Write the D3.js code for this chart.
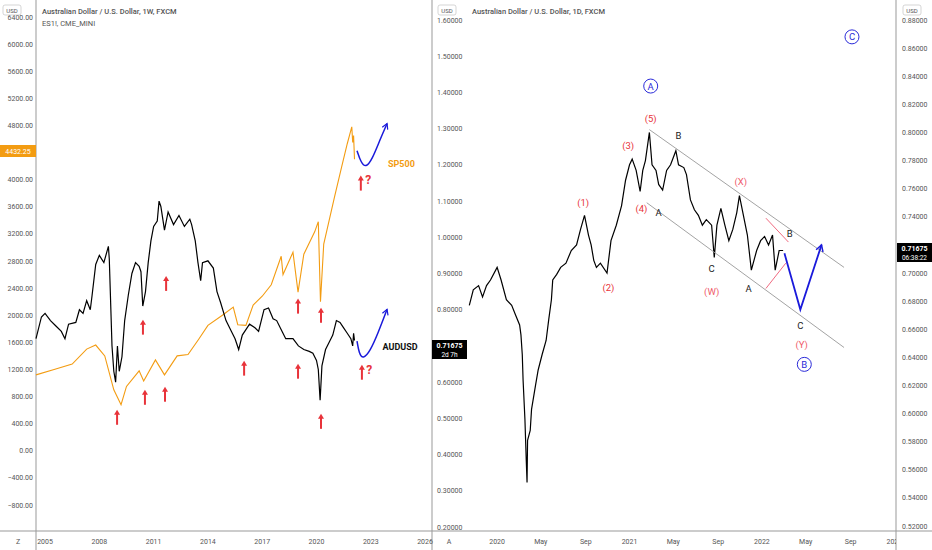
<html>
<head>
<style>
  body { margin: 0; background: #fff; font-family: 'Roboto', sans-serif; }
  .tick { font-size: 7px; fill: #555; }
</style>
</head>
<body>
<svg id="chart" width="932" height="550"></svg>
<script src="https://cdn.jsdelivr.net/npm/d3@7"></script>
<script>
// ---- weekly AUDUSD (left panel, right axis) ----
const audWYears = [2004.5,2004.8,2005.0,2005.3,2005.6,2005.9,2006.1,2006.3,2006.7,2006.9,2007.1,2007.3,2007.5,2007.6,2007.8,2008.0,2008.25,2008.5,2008.55,2008.7,2008.8,2008.9,2009.0,2009.1,2009.25,2009.4,2009.6,2009.8,2010.0,2010.2,2010.3,2010.4,2010.55,2010.7,2010.85,2011.0,2011.2,2011.3,2011.4,2011.6,2011.8,2012.1,2012.4,2012.7,2013.0,2013.1,2013.3,2013.45,2013.6,2013.7,2014.0,2014.3,2014.5,2014.7,2015.0,2015.3,2015.5,2015.7,2015.9,2016.1,2016.3,2016.6,2016.8,2017.1,2017.35,2017.6,2017.8,2018.1,2018.3,2018.7,2019.0,2019.3,2019.6,2019.8,2020.0,2020.1,2020.2,2020.3,2020.5,2020.7,2020.9,2021.1,2021.3,2021.5,2021.7,2021.9,2022.0,2022.05,2022.1];
const audWValues = [0.72,0.78,0.79,0.77,0.755,0.74,0.72,0.76,0.765,0.80,0.79,0.825,0.80,0.84,0.925,0.95,0.93,0.975,0.94,0.70,0.63,0.60,0.70,0.63,0.67,0.77,0.84,0.90,0.93,0.92,0.905,0.81,0.85,0.93,0.99,1.03,1.045,1.10,1.085,1.02,1.07,1.035,1.06,1.03,1.05,1.035,0.99,0.93,0.88,0.93,0.935,0.915,0.85,0.82,0.77,0.74,0.72,0.69,0.73,0.745,0.76,0.75,0.74,0.80,0.805,0.775,0.77,0.74,0.72,0.72,0.70,0.69,0.685,0.68,0.66,0.635,0.55,0.645,0.69,0.71,0.73,0.77,0.765,0.75,0.735,0.72,0.70,0.735,0.715];

// ---- ES1! (left panel, left axis) ----
const spYears = [2004.5,2005.5,2006.5,2007.3,2007.8,2008.3,2008.8,2009.2,2009.5,2010.2,2010.45,2011.1,2011.6,2012.3,2012.9,2013.5,2014.0,2014.8,2015.4,2015.65,2016.1,2016.5,2017.0,2017.5,2018.05,2018.15,2018.7,2018.98,2019.3,2019.9,2020.1,2020.22,2020.4,2020.7,2021.0,2021.4,2021.7,2021.95,2022.0,2022.05,2022.1];
const spValues = [1120,1200,1280,1500,1560,1400,900,680,950,1180,1030,1340,1120,1400,1420,1650,1850,2000,2120,1860,1850,2150,2280,2450,2870,2600,2930,2340,2900,3230,3380,2200,3050,3400,3750,4200,4530,4780,4550,4650,4300];

// ---- daily AUDUSD (right panel) ----
const audDYears = [2019.79,2019.82,2019.86,2019.89,2019.92,2019.95,2020.0,2020.03,2020.07,2020.11,2020.14,2020.17,2020.18,2020.19,2020.196,2020.21,2020.22,2020.226,2020.23,2020.25,2020.26,2020.29,2020.31,2020.34,2020.37,2020.39,2020.41,2020.42,2020.45,2020.48,2020.52,2020.56,2020.60,2020.63,2020.66,2020.69,2020.71,2020.73,2020.75,2020.78,2020.83,2020.86,2020.90,2020.94,2020.97,2021.0,2021.02,2021.05,2021.08,2021.10,2021.12,2021.15,2021.17,2021.20,2021.22,2021.25,2021.28,2021.31,2021.35,2021.37,2021.41,2021.43,2021.46,2021.49,2021.52,2021.55,2021.58,2021.62,2021.64,2021.66,2021.69,2021.72,2021.75,2021.78,2021.81,2021.83,2021.86,2021.89,2021.92,2021.96,2021.99,2022.02,2022.05,2022.08,2022.10,2022.13,2022.16];
const audDValues = [0.677,0.688,0.691,0.683,0.691,0.695,0.704,0.695,0.681,0.677,0.670,0.663,0.656,0.642,0.624,0.596,0.567,0.551,0.581,0.588,0.603,0.620,0.631,0.642,0.652,0.667,0.681,0.695,0.699,0.704,0.707,0.716,0.720,0.731,0.741,0.727,0.720,0.709,0.704,0.707,0.700,0.723,0.734,0.748,0.766,0.777,0.781,0.773,0.758,0.773,0.780,0.800,0.777,0.773,0.763,0.759,0.773,0.777,0.787,0.777,0.775,0.770,0.752,0.745,0.741,0.734,0.738,0.734,0.711,0.734,0.746,0.734,0.723,0.731,0.743,0.755,0.741,0.727,0.702,0.716,0.723,0.726,0.720,0.727,0.702,0.716,0.716];

// ---- ticks (labels hidden behind price boxes left out) ----
const spTicks = [6400,6000,5600,5200,4800,4000,3600,3200,2800,2400,2000,1600,1200,800,400,0,-400,-800];
const audWTicks = [1.6,1.5,1.4,1.3,1.2,1.1,1.0,0.9,0.8,0.6,0.5,0.4,0.3,0.2];
const audDTicks = [0.88,0.86,0.84,0.82,0.80,0.78,0.76,0.74,0.70,0.68,0.66,0.64,0.62,0.60,0.58,0.56,0.54,0.52];
const leftYearTicks = [2005,2008,2011,2014,2017,2020,2023,2026];
const rightDateTicks = [2020,2020.33,2020.67,2021,2021.33,2021.67,2022,2022.33,2022.67,2023];
const rightDateLabels = ["2020","May","Sep","2021","May","Sep","2022","May","Sep","2023"];

// ---- annotations ----
const arrowSP = [[2008.98,605],[2010.52,900],[2011.63,945],[2010.41,1935],[2011.69,2580],[2016.0,1330],[2018.98,2245],[2018.98,1285],[2020.25,2110],[2020.25,545],[2022.51,1270],[2022.45,4060]];
const questionSP = [[2022.92,1140],[2022.86,3930]];
const blueSP = [[2022.24,4428],[2022.46,4251],[2022.73,4177],[2023.07,4295],[2023.51,4590],[2023.9,4827]];
const blueAUD = [[2022.24,0.713],[2022.35,0.680],[2022.57,0.663],[2022.96,0.685],[2023.4,0.735],[2023.9,0.801]];
const channelUpper = [[2021.15,0.802],[2022.62,0.704]];
const channelLower = [[2021.13,0.750],[2022.62,0.647]];
const pinkUpper = [[2022.03,0.739],[2022.20,0.722]];
const pinkLower = [[2022.03,0.689],[2022.18,0.707]];
const blueZig = [[2022.17,0.714],[2022.29,0.674],[2022.45,0.720]];
const waveLabels = [
  ["(5)",2021.16,0.810,"red"],["(3)",2020.99,0.791,"red"],["(1)",2020.65,0.750,"red"],
  ["(4)",2021.09,0.746,"red"],["(2)",2020.84,0.690,"red"],["B",2021.37,0.798,"black"],
  ["A",2021.22,0.743,"black"],["C",2021.62,0.703,"black"],["(W)",2021.62,0.687,"pink"],
  ["(X)",2021.84,0.765,"pink"],["A",2021.90,0.689,"black"],["B",2022.21,0.728,"black"],
  ["C",2022.29,0.663,"black"],["(Y)",2022.30,0.649,"pink"]];
const circleLabels = [["A",2021.16,0.833],["B",2022.32,0.635],["C",2022.68,0.868]];

const svg = d3.select("#chart");
const colors = {red:"#e8333a", pink:"#ef5b6a", black:"#222"};

// scales
const xL = d3.scaleLinear().domain([2004.5,2026.3]).range([36,430.5]);
const ySP = d3.scaleLinear().domain([-800,6400]).range([505,17]);
const yAW = d3.scaleLinear().domain([0.2,1.6]).range([527,20]);
const xR = d3.scaleLinear().domain([2019.765,2023.02]).range([466,897]);
const yAD = d3.scaleLinear().domain([0.52,0.88]).range([526,20]);

// frame lines
[[36,0,36,550],[432,0,432,550],[896,0,896,550]].forEach(l =>
  svg.append("line").attr("x1",l[0]).attr("y1",l[1]).attr("x2",l[2]).attr("y2",l[3]).attr("stroke","#999").attr("stroke-width",1));
svg.append("line").attr("x1",0).attr("x2",932).attr("y1",531).attr("y2",531).attr("stroke","#999");

// tick labels
svg.selectAll(".spT").data(spTicks).join("text").attr("class","tick")
  .attr("x",33).attr("y",d=>ySP(d)+2.5).attr("text-anchor","end")
  .text(d => (d<0?"\u2212":"") + Math.abs(d).toFixed(2));
svg.selectAll(".awT").data(audWTicks).join("text").attr("class","tick")
  .attr("x",437).attr("y",d=>yAW(d)+2.5).text(d=>d.toFixed(5));
svg.selectAll(".adT").data(audDTicks).join("text").attr("class","tick")
  .attr("x",902).attr("y",d=>yAD(d)+2.5).text(d=>d.toFixed(5));
svg.selectAll(".lx").data(leftYearTicks).join("text").attr("class","tick")
  .attr("x",d=>xL(d)).attr("y",544).attr("text-anchor","middle").text(d=>d);
svg.append("clipPath").attr("id","rc").append("rect").attr("x",466).attr("y",0).attr("width",430).attr("height",550);
svg.append("g").attr("clip-path","url(#rc)").selectAll("text").data(rightDateTicks).join("text").attr("class","tick")
  .attr("x",d=>xR(d)).attr("y",544).attr("text-anchor","middle").text((d,i)=>rightDateLabels[i]);
[["Z",18],["A",449]].forEach(t => svg.append("text").attr("class","tick").attr("x",t[1]).attr("y",544).attr("text-anchor","middle").text(t[0]));

// USD boxes
[[2,5],[437,5],[902,5]].forEach(p => {
  svg.append("rect").attr("x",p[0]+1).attr("y",p[1]).attr("width",18).attr("height",10).attr("rx",2).attr("fill","none").attr("stroke","#bbb").attr("stroke-width",0.6);
  svg.append("text").attr("class","tick").style("font-size","6px").attr("x",p[0]+10).attr("y",p[1]+7.5).attr("text-anchor","middle").text("USD");
});

// titles
svg.append("text").attr("x",42).attr("y",14).style("font-size","7.5px").style("font-weight","500").attr("fill","#555").text("Australian Dollar / U.S. Dollar, 1W, FXCM");
svg.append("text").attr("x",42).attr("y",26).style("font-size","7.5px").attr("fill","#555").text("ES1!, CME_MINI");
svg.append("text").attr("x",472).attr("y",14).style("font-size","7.5px").style("font-weight","500").attr("fill","#555").text("Australian Dollar / U.S. Dollar, 1D, FXCM");

// lines
const line = (xs, ys) => d3.line().x(d=>xs(d[0])).y(d=>ys(d[1]));
svg.append("path").datum(d3.zip(spYears,spValues)).attr("d",line(xL,ySP)).attr("fill","none").attr("stroke","#f39c12").attr("stroke-width",1.1);
svg.append("path").datum(d3.zip(audWYears,audWValues)).attr("d",line(xL,yAW)).attr("fill","none").attr("stroke","#000").attr("stroke-width",1.2);
svg.append("path").datum(d3.zip(audDYears,audDValues)).attr("d",line(xR,yAD)).attr("fill","none").attr("stroke","#000").attr("stroke-width",1.2);

// channel, pink lines
[channelUpper,channelLower].forEach(c => svg.append("path").datum(c).attr("d",line(xR,yAD)).attr("stroke","#999").attr("stroke-width",0.9));
[pinkUpper,pinkLower].forEach(c => svg.append("path").datum(c).attr("d",line(xR,yAD)).attr("stroke","#f06a80").attr("stroke-width",1));

// blue projections
const defs = svg.append("defs");
defs.append("marker").attr("id","ah").attr("viewBox","0 0 10 10").attr("refX",8).attr("refY",5)
  .attr("markerWidth",5).attr("markerHeight",5).attr("orient","auto")
  .append("path").attr("d","M1,1 L8,5 L1,9").attr("fill","none").attr("stroke","#1a1adb").attr("stroke-width",1.6);
svg.append("path").datum(blueSP).attr("d",line(xL,ySP).curve(d3.curveBasis)).attr("fill","none").attr("stroke","#1a1adb").attr("stroke-width",1.5).attr("marker-end","url(#ah)");
svg.append("path").datum(blueAUD).attr("d",line(xL,yAW).curve(d3.curveBasis)).attr("fill","none").attr("stroke","#1a1adb").attr("stroke-width",1.5).attr("marker-end","url(#ah)");
svg.append("path").datum(blueZig).attr("d",line(xR,yAD)).attr("fill","none").attr("stroke","#1a1adb").attr("stroke-width",1.8).attr("marker-end","url(#ah)");

// red arrows
arrowSP.forEach(a => {
  const x = xL(a[0]), y = ySP(a[1]);
  svg.append("line").attr("x1",x).attr("x2",x).attr("y1",y+3).attr("y2",y+15).attr("stroke","#e8333a").attr("stroke-width",2);
  svg.append("path").attr("d",`M${x-3},${y+5}L${x},${y}L${x+3},${y+5}Z`).attr("fill","#e8333a");
});
questionSP.forEach(q => svg.append("text").attr("x",xL(q[0])).attr("y",ySP(q[1])).attr("text-anchor","middle")
  .style("font-size","12px").style("font-weight","bold").attr("fill","#e8333a").text("?"));

// series labels
svg.append("text").attr("x",xL(2023.95)).attr("y",ySP(4180)).style("font-size","9px").style("font-weight","bold").attr("fill","#f39c12").text("SP500");
svg.append("text").attr("x",xL(2023.65)).attr("y",yAW(0.690)).style("font-size","9px").style("font-weight","bold").attr("fill","#111").text("AUDUSD");

// wave labels
svg.selectAll(".wl").data(waveLabels).join("text").attr("x",d=>xR(d[1])).attr("y",d=>yAD(d[2])+3.5)
  .attr("text-anchor","middle").style("font-size","9.5px").attr("fill",d=>colors[d[3]]).text(d=>d[0]);
circleLabels.forEach(c => {
  const x = xR(c[1]), y = yAD(c[2]);
  svg.append("circle").attr("cx",x).attr("cy",y).attr("r",7).attr("fill","none").attr("stroke","#2b2bd9").attr("stroke-width",1);
  svg.append("text").attr("x",x).attr("y",y+3.5).attr("text-anchor","middle").style("font-size","9.5px").attr("fill","#2b2bd9").text(c[0]);
});

// price boxes
svg.append("rect").attr("x",0).attr("y",145).attr("width",36).attr("height",12).attr("fill","#f39c12");
svg.append("text").attr("x",18).attr("y",153.5).attr("text-anchor","middle").style("font-size","7px").attr("fill","#fff").text("4432.25");
[[432,340,"2d 7h"],[897,243,"06:38:22"]].forEach(b => {
  svg.append("rect").attr("x",b[0]).attr("y",b[1]).attr("width",35).attr("height",19).attr("fill","#000");
  svg.append("text").attr("x",b[0]+17.5).attr("y",b[1]+8).attr("text-anchor","middle").style("font-size","7px").style("font-weight","bold").attr("fill","#fff").text("0.71675");
  svg.append("text").attr("x",b[0]+17.5).attr("y",b[1]+16.5).attr("text-anchor","middle").style("font-size","6.5px").attr("fill","#fff").text(b[2]);
});
</script>
</body>
</html>
